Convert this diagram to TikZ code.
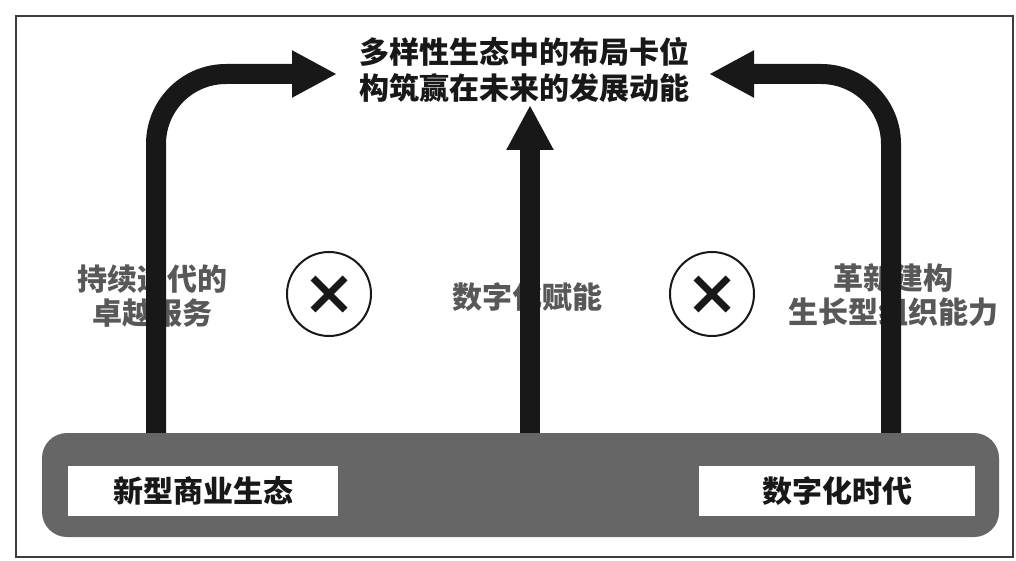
\documentclass[tikz,border=0pt]{standalone}
\usepackage{fontspec}
\setmainfont{Noto Sans CJK SC}
\usetikzlibrary{arrows.meta}
\definecolor{barcol}{RGB}{102,102,102}
\definecolor{inkcol}{RGB}{24,24,24}
\definecolor{labcol}{RGB}{88,88,88}
\definecolor{framecol}{RGB}{60,60,60}
\begin{document}
\begin{tikzpicture}[x=1pt,y=-1pt,
  framebox/.style={draw=framecol,line width=2pt,inner sep=0pt,minimum width=997pt,minimum height=541pt},
  titletext/.style={align=center,text=inkcol,font=\fontsize{30}{36}\selectfont\bfseries,inner sep=0pt},
  labtext/.style={align=center,text=labcol,font=\fontsize{30}{34}\selectfont\bfseries,inner sep=0pt},
  barnode/.style={fill=barcol,rounded corners=25pt,minimum width=957pt,minimum height=104pt,inner sep=0pt},
  whitebox/.style={fill=white,minimum height=50pt,inner sep=0pt,text=inkcol,font=\fontsize{30}{34}\selectfont\bfseries},
  timesmark/.style={circle,draw=inkcol,line width=2pt,minimum size=84pt,inner sep=0pt},
  crossline/.style={draw=inkcol,line width=7pt},
  bigarrow/.style={draw=inkcol,line width=20pt,rounded corners=70pt,-{Triangle[width=44pt,length=45pt]}}
]
\useasboundingbox (0,0) rectangle (1016,561);
\fill[white] (0,0) rectangle (1016,561);
\node[framebox] (frame) at (514.5,286.5) {};

% labels
\node[labtext] (lab1) at (152,296) {持续迭代的\\卓越服务};
\node[labtext] (lab2) at (527,297) {数字化赋能};
\node[labtext] (lab3) at (893,295) {革新建构\\生长型组织能力};

% circled crosses
\node[timesmark] (c1) at (329,294) {};
\node[timesmark] (c2) at (712,294) {};
\foreach \c in {c1,c2}{
  \draw[crossline] ([shift={(-16pt,-16pt)}]\c.center) -- ([shift={(16pt,16pt)}]\c.center);
  \draw[crossline] ([shift={(-16pt,16pt)}]\c.center) -- ([shift={(16pt,-16pt)}]\c.center);
}

% title
\node[titletext] (title) at (524,70) {多样性生态中的布局卡位\\构筑赢在未来的发展动能};

% arrows
\coordinate (s1) at (156,445);
\coordinate (s2) at (530,445);
\coordinate (s3) at (891,445);
\coordinate (t1) at (337,74);
\coordinate (t2) at (530,105);
\coordinate (t3) at (709,74);
\draw[bigarrow] (s1) |- (t1);
\draw[bigarrow] (s2) -- (t2);
\draw[bigarrow] (s3) |- (t3);

% bar
\node[barnode] (bar) at (520.5,485) {};
\node[whitebox,minimum width=270pt] (eco) at (203,491) {新型商业生态};
\node[whitebox,minimum width=276pt] (era) at (837,491) {数字化时代};
\end{tikzpicture}
\end{document}
